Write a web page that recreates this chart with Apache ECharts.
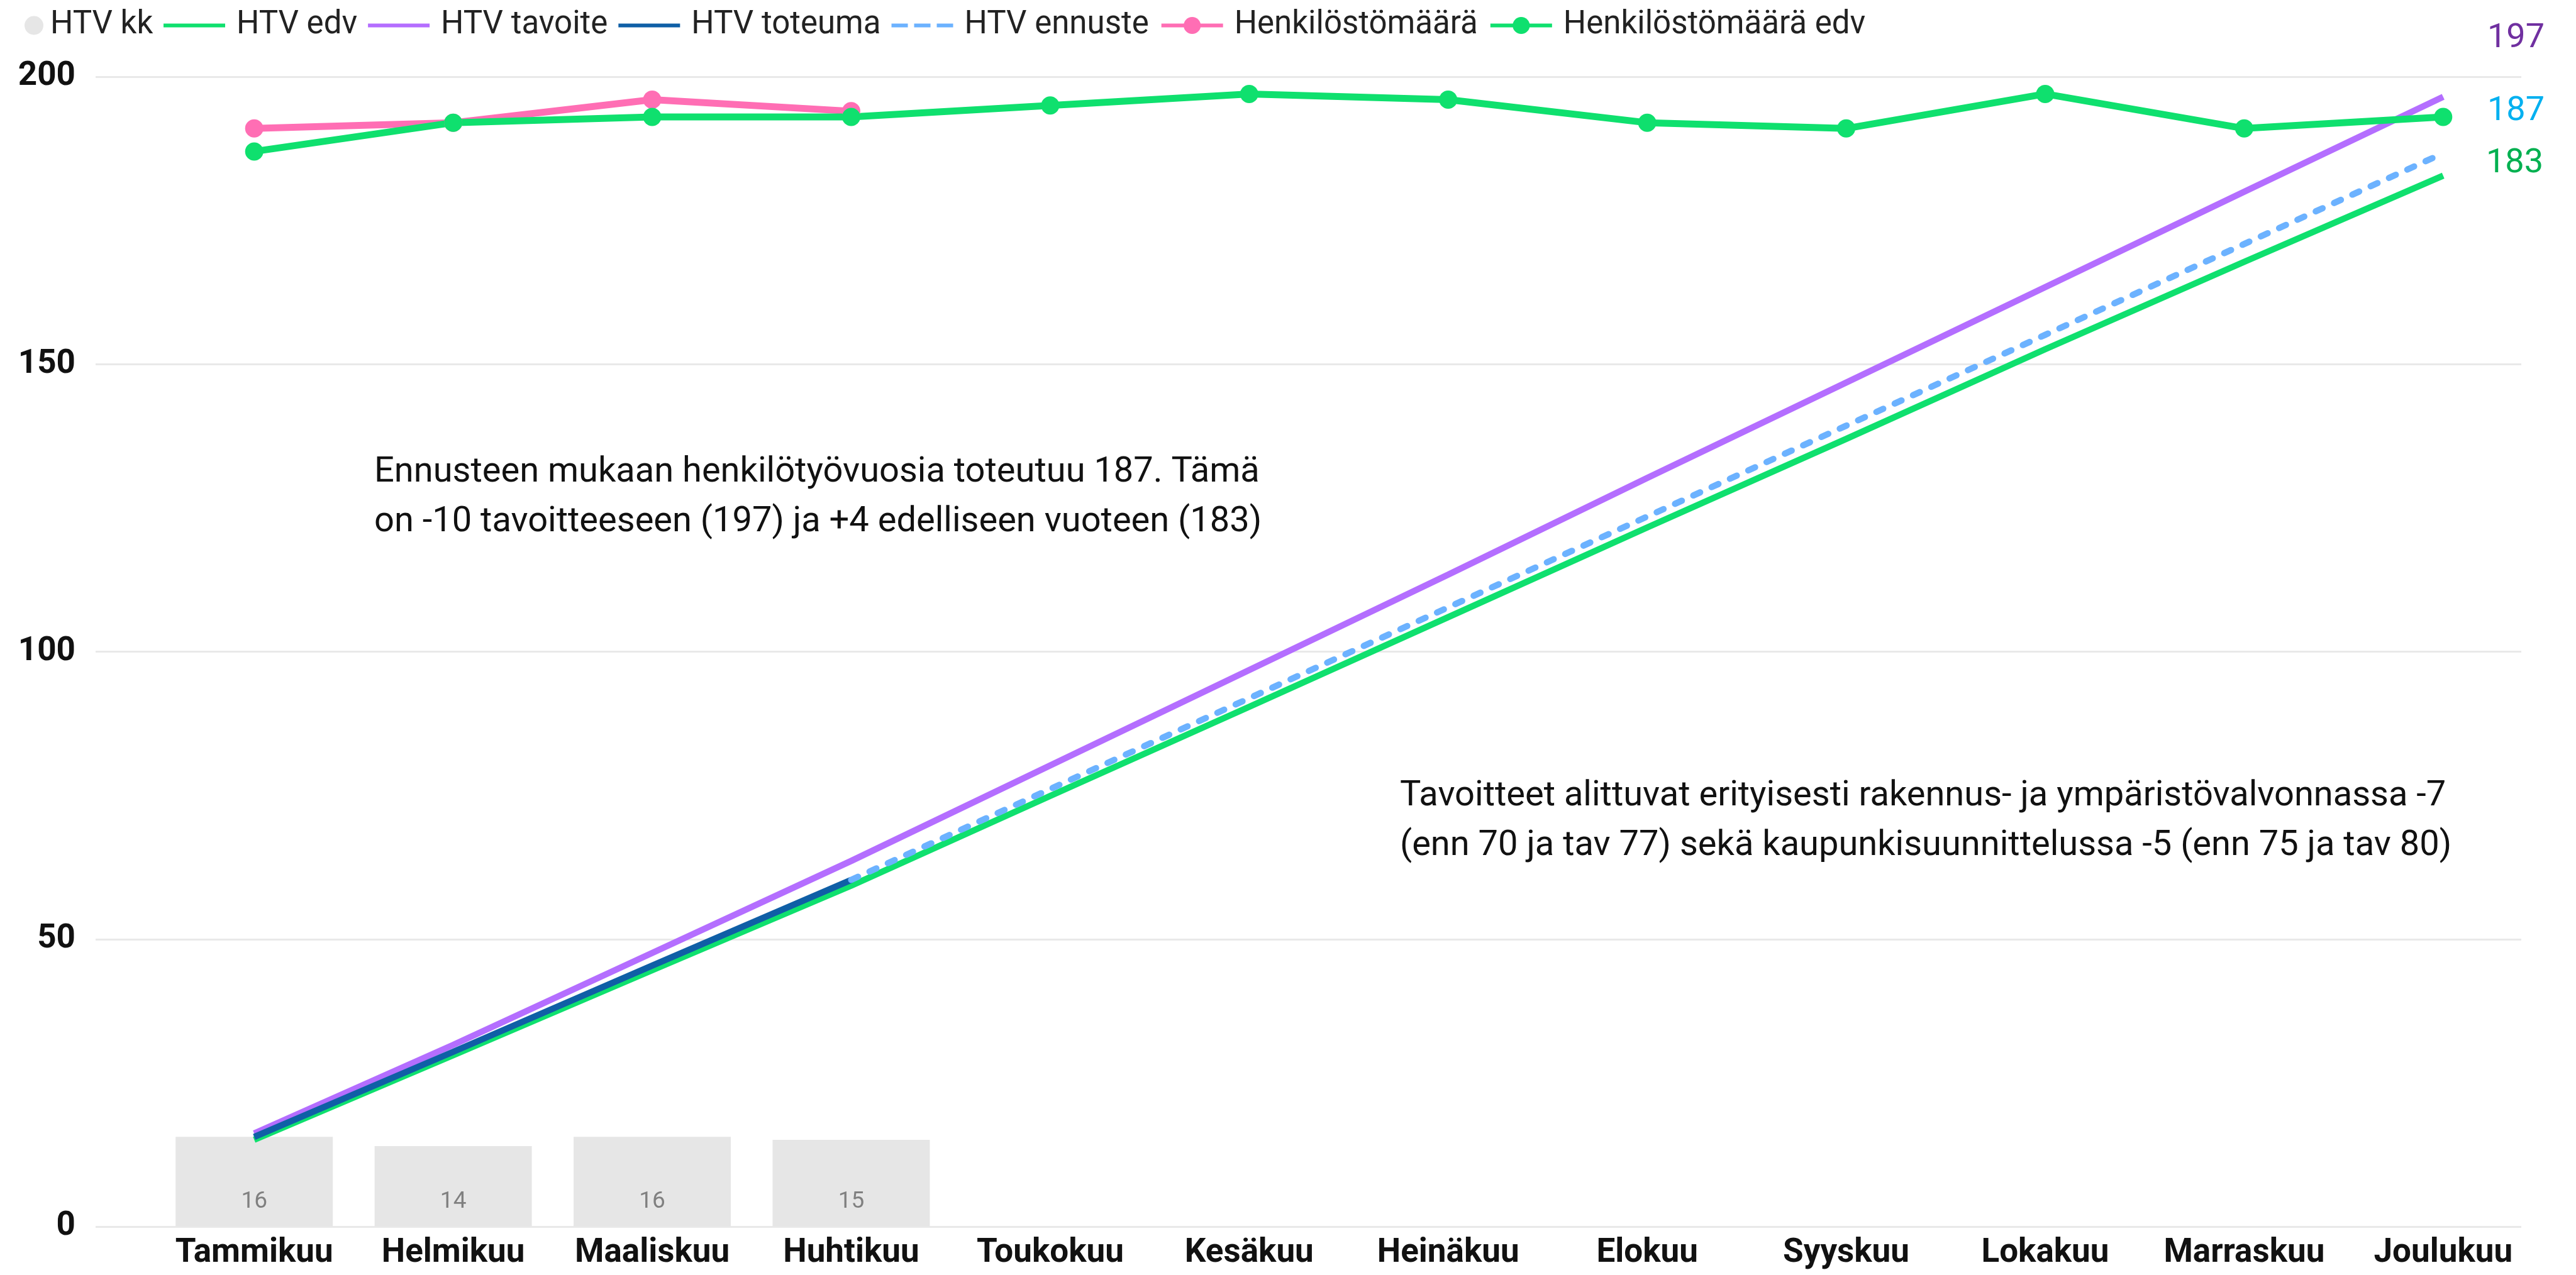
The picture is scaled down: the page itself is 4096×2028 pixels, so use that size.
<!DOCTYPE html>
<html>
<head>
<meta charset="utf-8">
<script src="https://cdn.jsdelivr.net/npm/echarts@6/dist/echarts.min.js"></script>
<style>
  html, body { margin: 0; padding: 0; background: #fff; }
  #chart { width: 4096px; height: 2028px; }
</style>
</head>
<body>
<div id="chart"></div>
<script>
// kuukaudet
const months = ["Tammikuu", "Helmikuu", "Maaliskuu", "Huhtikuu", "Toukokuu", "Kesäkuu",
  "Heinäkuu", "Elokuu", "Syyskuu", "Lokakuu", "Marraskuu", "Joulukuu"];

// HTV per kuukausi (pylväät)
const htvKk = [15.6, 14.0, 15.6, 15.1, null, null, null, null, null, null, null, null];
// kumulatiiviset HTV-viivat
const htvEdv = [15.1, 29.8, 44.6, 59.3, 74.9, 90.4, 106.0, 121.6, 137.0, 152.6, 167.8, 182.8];
const htvTavoite = [16.2, 31.6, 47.6, 63.6, 80.2, 96.8, 113.4, 130.2, 146.8, 163.4, 180.0, 196.5];
const htvToteuma = [15.6, 30.4, 45.4, 60.3, null, null, null, null, null, null, null, null];
const htvEnnuste = [null, null, null, 60.3, 76.1, 91.9, 107.7, 123.5, 139.3, 155.1, 170.9, 186.7];
// henkilöstömäärä
const henkilosto = [191, 192, 196, 194, null, null, null, null, null, null, null, null];
const henkilostoEdv = [187, 192, 193, 193, 195, 197, 196, 192, 191, 197, 191, 193];

// y-akselin asteikko
const yMin = 0;
const yMax = 200;
const yStep = 50;

// tekstit
const endLabels = ["197", "187", "183"];
const note1 = "Ennusteen mukaan henkilötyövuosia toteutuu 187. Tämä\non -10 tavoitteeseen (197) ja +4 edelliseen vuoteen (183)";
const note2 = "Tavoitteet alittuvat erityisesti rakennus- ja ympäristövalvonnassa -7\n(enn 70 ja tav 77) sekä kaupunkisuunnittelussa -5 (enn 75 ja tav 80)";

const FONT = "Roboto";
const GREEN = "#0FE06E";
const PURPLE = "#B46EFF";
const DARKBLUE = "#0F5FA6";
const LIGHTBLUE = "#6CB2FF";
const PINK = "#FF6EB4";

// legendan viivaikonit
const LINE_ICON = "path://M0,0h98v6h-98z";
const DASH_ICON = "path://M0,0h26v6h-26z M36,0h26v6h-26z M72,0h26v6h-26z";

const chart = echarts.init(document.getElementById("chart"));

const option = {
  animation: false,
  textStyle: { fontFamily: FONT },
  legend: [
    {
      data: [{ name: "HTV kk", icon: "circle" }],
      left: 34,
      top: 10,
      itemWidth: 30,
      itemHeight: 30,
      textStyle: { fontSize: 51, color: "#222", padding: [0, 0, 0, 6] },
    },
    {
      data: [
        { name: "HTV edv", icon: LINE_ICON },
        { name: "HTV tavoite", icon: LINE_ICON },
        { name: "HTV toteuma", icon: LINE_ICON },
        { name: "HTV ennuste", icon: DASH_ICON },
        "Henkilöstömäärä",
        "Henkilöstömäärä edv",
      ],
      left: 255,
      top: 10,
      itemWidth: 98,
      itemHeight: 34,
      itemGap: 17,
      lineStyle: { width: 6 },
      textStyle: { fontSize: 51, color: "#222", padding: [0, 0, 0, 13] },
    },
  ],
  grid: [
    // taustan apuviivat
    { left: 152, right: 87, top: 122, bottom: 77 },
    // data
    { left: 246, right: 53, top: 122, bottom: 77 },
  ],
  xAxis: [
    { gridIndex: 0, type: "value", show: false, min: 0, max: 1 },
    {
      gridIndex: 1,
      type: "category",
      data: months,
      axisLine: { show: false },
      axisTick: { show: false },
      axisLabel: { interval: 0, fontSize: 53, fontWeight: "bold", color: "#111", margin: 16 },
    },
  ],
  yAxis: [
    {
      gridIndex: 0,
      type: "value",
      min: yMin,
      max: yMax,
      interval: yStep,
      axisLine: { show: false },
      axisTick: { show: false },
      axisLabel: { fontSize: 53, fontWeight: "bold", color: "#111", margin: 32 },
      splitLine: { lineStyle: { color: "#E9E9E9", width: 3 } },
    },
    {
      gridIndex: 1,
      type: "value",
      min: yMin,
      max: yMax,
      interval: yStep,
      show: false,
      splitLine: { show: false },
    },
  ],
  series: [
    {
      name: "HTV kk",
      type: "bar",
      xAxisIndex: 1,
      yAxisIndex: 1,
      data: htvKk,
      barWidth: 250,
      itemStyle: { color: "#E6E6E6" },
      label: {
        show: true,
        position: "insideBottom",
        distance: 21,
        fontSize: 37,
        color: "#808080",
        formatter: (p) => Math.round(p.value),
      },
    },
    {
      name: "HTV edv",
      type: "line",
      xAxisIndex: 1,
      yAxisIndex: 1,
      data: htvEdv,
      symbol: "none",
      lineStyle: { color: GREEN, width: 10 },
      itemStyle: { color: GREEN },
    },
    {
      name: "HTV tavoite",
      type: "line",
      xAxisIndex: 1,
      yAxisIndex: 1,
      data: htvTavoite,
      symbol: "none",
      lineStyle: { color: PURPLE, width: 10 },
      itemStyle: { color: PURPLE },
    },
    {
      name: "HTV toteuma",
      type: "line",
      xAxisIndex: 1,
      yAxisIndex: 1,
      data: htvToteuma,
      symbol: "none",
      lineStyle: { color: DARKBLUE, width: 10 },
      itemStyle: { color: DARKBLUE },
    },
    {
      name: "HTV ennuste",
      type: "line",
      xAxisIndex: 1,
      yAxisIndex: 1,
      data: htvEnnuste,
      symbol: "none",
      lineStyle: { color: LIGHTBLUE, width: 10, type: [12, 20], cap: "round" },
      itemStyle: { color: LIGHTBLUE },
    },
    {
      name: "Henkilöstömäärä",
      type: "line",
      xAxisIndex: 1,
      yAxisIndex: 1,
      data: henkilosto,
      symbol: "circle",
      symbolSize: 29,
      lineStyle: { color: PINK, width: 11 },
      itemStyle: { color: PINK },
    },
    {
      name: "Henkilöstömäärä edv",
      type: "line",
      xAxisIndex: 1,
      yAxisIndex: 1,
      data: henkilostoEdv,
      symbol: "circle",
      symbolSize: 29,
      lineStyle: { color: GREEN, width: 11 },
      itemStyle: { color: GREEN },
    },
  ],
  graphic: [
    // loppuarvot oikealla
    { type: "text", left: 3955, top: 34, style: { text: endLabels[0], fontSize: 54, fontFamily: FONT, fill: "#7030A0" } },
    { type: "text", left: 3955, top: 150, style: { text: endLabels[1], fontSize: 54, fontFamily: FONT, fill: "#00B0F0" } },
    { type: "text", left: 3953, top: 233, style: { text: endLabels[2], fontSize: 54, fontFamily: FONT, fill: "#00B050" } },
    // kommentit
    { type: "text", left: 595, top: 712, style: { text: note1, fontSize: 56, lineHeight: 79, fontFamily: FONT, fill: "#111" } },
    { type: "text", left: 2226, top: 1227, style: { text: note2, fontSize: 56, lineHeight: 79, fontFamily: FONT, fill: "#111" } },
  ],
};

chart.setOption(option);
</script>
</body>
</html>
